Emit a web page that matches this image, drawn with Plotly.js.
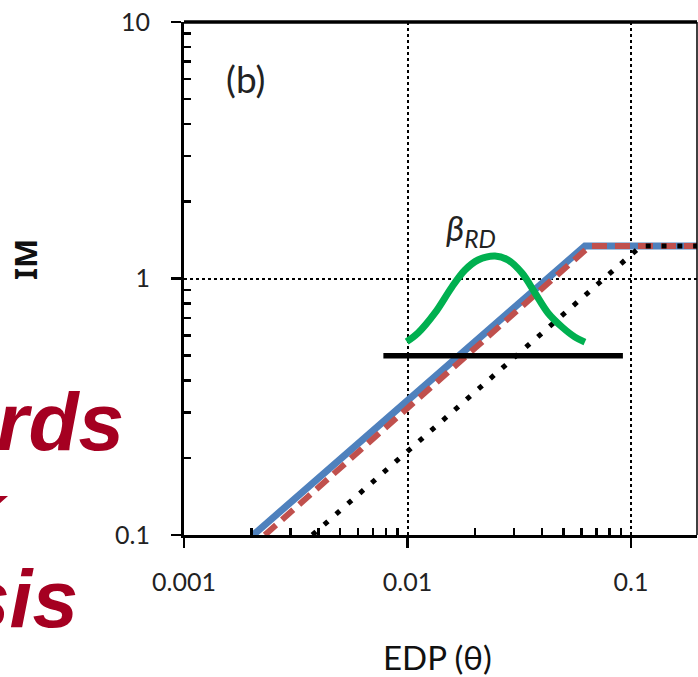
<!DOCTYPE html>
<html>
<head>
<meta charset="utf-8">
<script src="https://cdn.plot.ly/plotly-3.0.1.min.js"></script>
<style>
  html, body { margin: 0; padding: 0; background: #fff; }
  #chart { width: 698px; height: 677px; }
</style>
</head>
<body>
<div id="chart"></div>
<script>
// Capacity curves in IM–EDP space (log–log)
const blueX = [0.00204, 0.0622, 0.2];
const blueY = [0.1, 1.339, 1.339];

const redX = [0.0023, 0.0655, 0.2];
const redY = [0.1, 1.339, 1.339];

const dotX = [0.00375, 0.111, 0.2];
const dotY = [0.1, 1.339, 1.339];

// Record-to-record dispersion bell (beta_RD)
const greenX = [0.00992, 0.01114, 0.01327, 0.01581, 0.01808, 0.02067, 0.02463,
                0.02817, 0.03253, 0.0372, 0.04253, 0.04913, 0.05616, 0.0622];
const greenY = [0.567, 0.613, 0.734, 0.927, 1.079, 1.181, 1.224,
                1.181, 1.05, 0.878, 0.734, 0.647, 0.591, 0.565];

// IM level
const barX = [0.0078, 0.092];
const barY = [0.5, 0.5];

const xTickVals = [0.001, 0.01, 0.1];
const xTickText = ['0.001', '0.01', '0.1'];
const yTickVals = [0.1, 1, 10];
const yTickText = ['0.1', '1', '10'];

// minor ticks 2..9 within each decade
function minorTicks(lo, hi) {
  const out = [];
  for (let d = lo; d < hi; d++) {
    for (let m = 2; m <= 9; m++) out.push(m * Math.pow(10, d));
  }
  return out;
}

const L = 184, T = 22, W = 513, H = 513;
const px = x => (x - L) / W;
const py = y => (T + H - y) / H;

const traces = [
  { x: blueX, y: blueY, mode: 'lines', line: { color: '#4F81BD', width: 7 }, hoverinfo: 'skip' },
  { x: redX, y: redY, mode: 'lines', line: { color: '#C0504D', width: 6, dash: '15px,8px' }, hoverinfo: 'skip' },
  { x: dotX, y: dotY, mode: 'lines', line: { color: '#000', width: 5, dash: '5px,10.8px' }, hoverinfo: 'skip' },
  { x: greenX, y: greenY, mode: 'lines', line: { color: '#00B050', width: 7, shape: 'spline' }, hoverinfo: 'skip' },
  { x: barX, y: barY, mode: 'lines', line: { color: '#000', width: 5.5 }, hoverinfo: 'skip' }
];

const tickFont = { family: 'Lato, sans-serif', size: 25, color: '#222' };
const redFont = { family: '"Liberation Sans Narrow", "Liberation Sans", Arial, sans-serif', size: 82, color: '#A50021', weight: 'bold', style: 'italic' };

const layout = {
  width: 698, height: 677,
  margin: { l: L, r: 698 - L - W, t: T, b: 677 - T - H, pad: 0 },
  paper_bgcolor: '#fff', plot_bgcolor: '#fff',
  showlegend: false,
  xaxis: {
    type: 'log', range: [-3, -3 + W / 223.5],
    showline: true, linecolor: '#000', linewidth: 3,
    ticks: 'outside', ticklen: 10, tickwidth: 2.5, tickcolor: '#000',
    tickmode: 'array', tickvals: xTickVals, ticktext: xTickText,
    tickfont: tickFont, ticklabelstandoff: 13,
    showgrid: true, gridcolor: '#000', gridwidth: 2, griddash: 'dot',
    minor: { tickmode: 'array', tickvals: minorTicks(-3, 0), ticks: 'inside', ticklen: 7, tickwidth: 2.5, tickcolor: '#000', showgrid: false },
    zeroline: false, fixedrange: true
  },
  yaxis: {
    type: 'log', range: [-1, 1],
    showline: true, linecolor: '#000', linewidth: 3,
    ticks: 'outside', ticklen: 10, tickwidth: 2.5, tickcolor: '#000',
    tickmode: 'array', tickvals: yTickVals, ticktext: yTickText,
    tickfont: tickFont, ticklabelstandoff: 16,
    showgrid: true, gridcolor: '#000', gridwidth: 2, griddash: 'dot',
    minor: { tickmode: 'array', tickvals: minorTicks(-1, 1), ticks: 'inside', ticklen: 7, tickwidth: 2.5, tickcolor: '#000', showgrid: false },
    zeroline: false, fixedrange: true
  },
  // inner half of the decade ticks
  xaxis2: {
    type: 'log', range: [-3, -3 + W / 223.5], overlaying: 'x', anchor: 'y', side: 'bottom',
    ticks: 'inside', ticklen: 8, tickwidth: 2.5, tickcolor: '#000',
    tickmode: 'array', tickvals: xTickVals, showticklabels: false,
    showgrid: false, showline: false, zeroline: false, fixedrange: true
  },
  yaxis2: {
    type: 'log', range: [-1, 1], overlaying: 'y', anchor: 'x', side: 'left',
    ticks: 'inside', ticklen: 8, tickwidth: 2.5, tickcolor: '#000',
    tickmode: 'array', tickvals: yTickVals, showticklabels: false,
    showgrid: false, showline: false, zeroline: false, fixedrange: true
  },
  shapes: [
    { type: 'line', xref: 'paper', yref: 'paper', x0: 0, x1: 1, y0: 1, y1: 1, line: { color: '#000', width: 3.5 } },
    { type: 'line', xref: 'paper', yref: 'paper', x0: 1, x1: 1, y0: 0, y1: 1, line: { color: '#000', width: 1.5 } }
  ],
  annotations: [
    { text: '(b)', xref: 'paper', yref: 'paper', x: px(245), y: py(78), xanchor: 'center', yanchor: 'middle', showarrow: false,
      font: { family: 'Lato, sans-serif', size: 37, color: '#222' } },
    { text: '<i>β<sub>RD</sub></i>', xref: 'paper', yref: 'paper', x: px(471), y: py(229), xanchor: 'center', yanchor: 'middle', showarrow: false,
      font: { family: 'Lato, sans-serif', size: 35, color: '#222' } },
    { text: 'IM', xref: 'paper', yref: 'paper', x: px(25), y: py(260), xanchor: 'center', yanchor: 'middle', textangle: -90, showarrow: false,
      font: { family: '"Noto Sans", sans-serif', size: 31, color: '#111', weight: 'bold' } },
    { text: 'EDP (θ)', xref: 'paper', yref: 'paper', x: px(437), y: py(657), xanchor: 'center', yanchor: 'middle', showarrow: false,
      font: { family: 'Lato, sans-serif', size: 33, color: '#111' } },
    { text: 'ards', xref: 'paper', yref: 'paper', x: px(126), y: py(421), xanchor: 'right', yanchor: 'middle', showarrow: false, font: redFont },
    { text: 'k', xref: 'paper', yref: 'paper', x: px(11), y: py(510), xanchor: 'right', yanchor: 'middle', showarrow: false, font: redFont },
    { text: 'sis', xref: 'paper', yref: 'paper', x: px(80), y: py(598), xanchor: 'right', yanchor: 'middle', showarrow: false, font: redFont }
  ]
};

Plotly.newPlot('chart', traces, layout, { staticPlot: true, displayModeBar: false });
</script>
</body>
</html>
